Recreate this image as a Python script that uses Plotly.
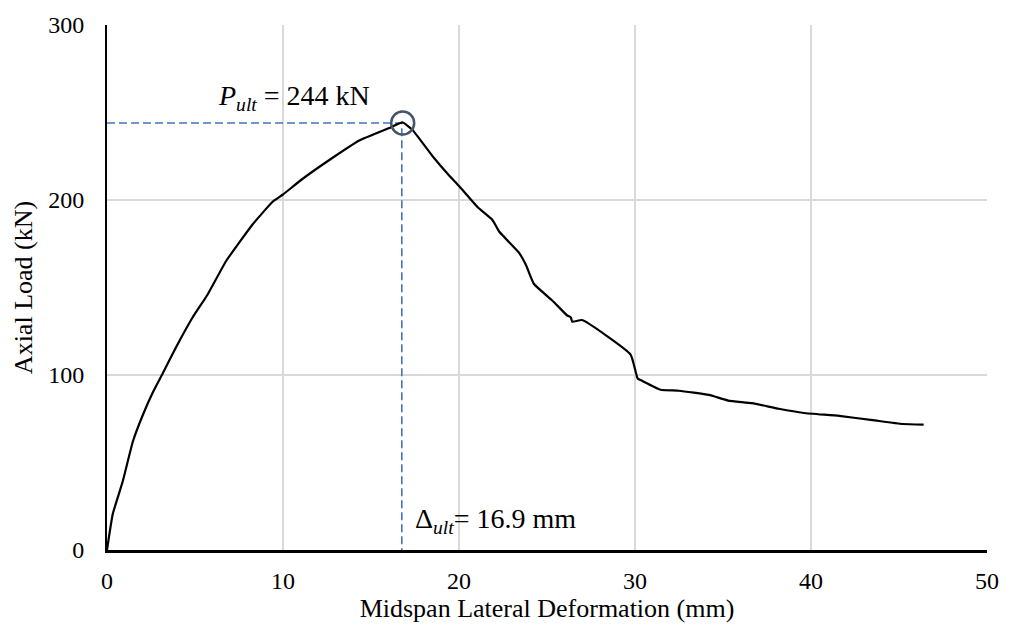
import plotly.graph_objects as go

# Load-deformation curve
deformation_mm = [0, 0.33, 0.9, 1.47, 2.03, 2.6, 3.17, 3.93, 4.87, 5.72, 6.76, 8.27, 9.41, 9.98,
                  11.1, 12.8, 14.33, 16.0, 16.8, 17.36, 18.5, 19.44, 20.0, 21.05, 21.9, 22.28,
                  23.4, 23.8, 24.26, 25.3, 26.15, 26.35, 26.44, 27.0, 29.75, 30.15, 30.4, 31.45,
                  32.5, 34.2, 35.3, 36.65, 38.17, 39.6, 41.6, 43.5, 45.2, 46.4]
axial_load_kN = [0, 20.7, 39.4, 62, 77, 90, 101, 116, 133, 146, 165, 186, 199, 203,
                 212, 224, 234, 241, 244.3, 240, 225, 214, 208, 196, 188.6, 182,
                 170, 163, 152, 142.6, 134, 133, 130.4, 131.4, 111.7, 98, 96.7, 91.6,
                 91, 88.6, 85.4, 83.9, 80.7, 78.3, 76.6, 74.2, 72, 71.7]

# Ultimate point
peak_x = [16.8]
peak_y = [244]
guide_x = [0, 16.75, 16.75]
guide_y = [244, 244, 0]

x_ticks = [0, 10, 20, 30, 40, 50]
y_ticks = [0, 100, 200, 300]

FONT = "Liberation Serif"

fig = go.Figure()

fig.add_trace(go.Scatter(
    x=guide_x, y=guide_y, mode="lines",
    line=dict(color="#4472C4", width=1.6, dash="8px,4px"),
    hoverinfo="skip", showlegend=False))

fig.add_trace(go.Scatter(
    x=deformation_mm, y=axial_load_kN, mode="lines",
    line=dict(color="black", width=2.2, shape="spline", smoothing=0.4),
    showlegend=False))

fig.add_trace(go.Scatter(
    x=peak_x, y=peak_y, mode="markers",
    marker=dict(size=23, color="rgba(0,0,0,0)", line=dict(color="#44546A", width=2.5)),
    showlegend=False))

fig.add_annotation(x=10.6, y=258.5, xref="x", yref="y", showarrow=False,
                   text="<i>P</i><sub><i>ult</i></sub> = 244 kN",
                   font=dict(family=FONT, size=28, color="black"))
fig.add_annotation(x=17.4, y=17, xref="x", yref="y", showarrow=False, xanchor="left",
                   text="Δ<sub><i>ult</i></sub>= 16.9 mm",
                   font=dict(family=FONT, size=28, color="black"))

fig.update_layout(
    width=1011, height=641,
    margin=dict(l=107, r=23, t=17, b=91),
    paper_bgcolor="white", plot_bgcolor="white",
    font=dict(family=FONT, size=24, color="black"),
)

fig.update_xaxes(
    range=[0, 50], tickvals=x_ticks, ticktext=[str(v) for v in x_ticks],
    showgrid=True, gridcolor="#D9D9D9", gridwidth=1.5,
    showline=True, linecolor="black", linewidth=2.5,
    zeroline=False, ticks="", ticklabelstandoff=7,
    title=dict(text="Midspan Lateral Deformation (mm)", font=dict(family=FONT, size=26), standoff=0),
    tickfont=dict(family=FONT, size=24),
)
fig.update_yaxes(
    range=[0, 300], tickvals=y_ticks, ticktext=[str(v) for v in y_ticks],
    showgrid=True, gridcolor="#D9D9D9", gridwidth=1.5,
    showline=True, linecolor="black", linewidth=2,
    zeroline=False, ticks="", ticklabelstandoff=16,
    title=dict(text="Axial Load (kN)", font=dict(family=FONT, size=26), standoff=8),
    tickfont=dict(family=FONT, size=24),
)

fig.write_html("out.html")
